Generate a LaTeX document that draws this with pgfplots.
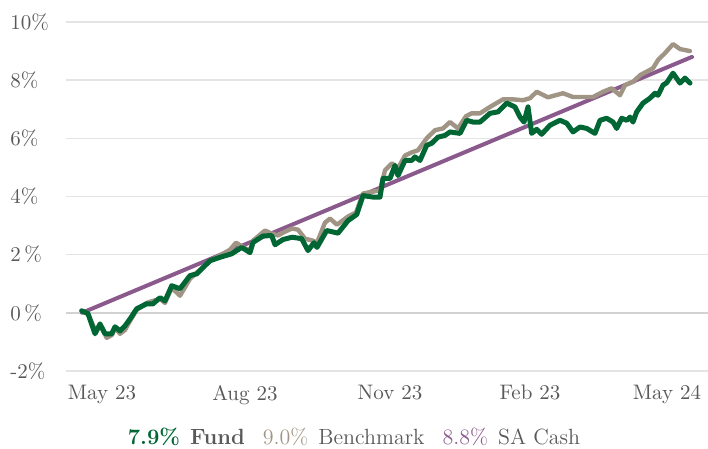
\documentclass[border=0pt]{standalone}
\usepackage{pgfplots}
\pgfplotsset{compat=1.18}
\definecolor{fundg}{RGB}{0,102,51}
\definecolor{bench}{RGB}{160,148,132}
\definecolor{cash}{RGB}{139,90,140}
\definecolor{txt}{RGB}{89,89,89}
\definecolor{gridc}{RGB}{228,228,228}
\definecolor{zeroc}{RGB}{210,210,210}
\begin{document}
\begin{tikzpicture}
\begin{axis}[
  at={(0pt,0pt)}, anchor=south west,
  scale only axis, width=321pt, height=174.5pt,
  xmin=66, xmax=708, ymin=-2, ymax=10,
  clip=false,
  axis line style={draw=none},
  major tick length=0pt,
  ytick={-2,0,2,4,6,8,10},
  yticklabels={-2\%,0\,\%,2\,\%,4\%,6\%,8\%,10\%},
  xtick={102,245,390,530,667},
  xticklabels={May 23,Aug 23,Nov 23,Feb 23,May 24},
  ymajorgrids,
  grid style={draw=gridc, line width=0.8pt},
  tick label style={font=\fontsize{10.5}{12}\selectfont, text=txt, inner sep=0pt},
  yticklabel style={anchor=west, xshift=-28pt},
  xticklabel style={anchor=north, yshift=-7pt},
  /pgf/number format/assume math mode=true,
]
\addplot[draw=zeroc, line width=1.1pt] coordinates {(66,0) (708,0)};
\addplot[cash, line width=2pt, line cap=round] coordinates {(82,0.0) (692,8.8)};
\addplot[bench, line width=2.2pt, line join=round, line cap=round] table {
81.7 0.07
88 -0.03
96 -0.66
100 -0.41
106.7 -0.86
112 -0.76
115 -0.52
120 -0.72
125 -0.59
130 -0.28
136.7 0.10
146.7 0.34
153 0.41
160 0.48
165 0.34
171.7 0.86
180 0.59
190 1.17
196.7 1.38
210 1.79
220 1.97
230 2.17
236 2.41
244 2.24
250 2.14
253 2.48
265 2.83
272 2.72
278 2.66
285 2.79
292 2.90
298 2.86
305 2.55
313 2.48
317 2.41
325 3.10
330 3.24
337 3.03
348 3.31
356 3.45
363 4.10
370 4.15
380 4.21
385 4.90
392 5.14
398 4.97
405 5.41
412 5.52
418 5.59
426.7 6.00
435 6.28
443 6.34
450 6.56
458 6.34
466 6.76
471.7 6.86
480 6.86
490 7.08
503 7.34
513 7.34
523 7.31
530 7.38
536.7 7.60
548 7.41
563 7.55
573 7.42
593 7.42
603 7.60
611.7 7.72
620 7.48
625 7.83
633 7.94
640 8.17
653 8.41
658 8.69
665 8.93
673 9.24
680 9.07
690 9.00
};
\addplot[fundg, line width=2.5pt, line join=round, line cap=round] table {
81.7 0.07
88 -0.03
95 -0.72
100 -0.38
105 -0.72
111.7 -0.72
115 -0.48
120 -0.62
125 -0.45
130 -0.21
136.7 0.14
146.7 0.31
153 0.31
160 0.52
165 0.41
171.7 0.93
180 0.83
190 1.28
196.7 1.34
210 1.79
220 1.91
231.7 2.03
241.7 2.25
250 2.07
253 2.42
263 2.64
271.7 2.66
275 2.34
283 2.52
292 2.60
301.7 2.55
308 2.14
314 2.41
317 2.25
326.7 2.83
338 2.74
348 3.17
356.7 3.38
363 4.03
373 3.98
380 3.98
383 4.62
390 4.62
395 5.07
398 4.72
405 5.24
411.7 5.24
415 5.36
420 5.24
426.7 5.76
431.7 5.83
438 6.04
445 6.10
450 6.22
460 6.17
466.7 6.62
473 6.56
480 6.56
490 6.86
498 6.91
506.7 7.21
515 7.08
520 6.73
524 6.56
528 7.08
531.7 6.17
536.7 6.31
541.7 6.14
550 6.45
560 6.62
566.7 6.52
573 6.22
580 6.39
586.7 6.34
595 6.17
600 6.62
606.7 6.69
613 6.56
616.7 6.34
621.7 6.69
626.7 6.62
630 6.73
633 6.56
636.7 6.91
643 7.21
650 7.38
655 7.55
658 7.48
663 7.83
666.7 7.91
673 8.24
680 7.90
685 8.07
690 7.90
};
\end{axis}
\node[anchor=base, inner sep=0pt, font=\fontsize{11}{13}\selectfont] at (144pt,-37pt)
  {\textcolor{fundg}{\textbf{7.9\%}}\hspace{5pt}\textcolor{txt}{\textbf{Fund}}\hspace{9pt}\textcolor{bench}{9.0\%}\hspace{5pt}\textcolor{txt}{Benchmark}\hspace{9pt}\textcolor{cash}{8.8\%}\hspace{5pt}\textcolor{txt}{SA Cash}};
\pgfresetboundingbox
\path[use as bounding box] (-33pt,-39pt) rectangle (321pt,185.5pt);
\end{tikzpicture}
\end{document}
